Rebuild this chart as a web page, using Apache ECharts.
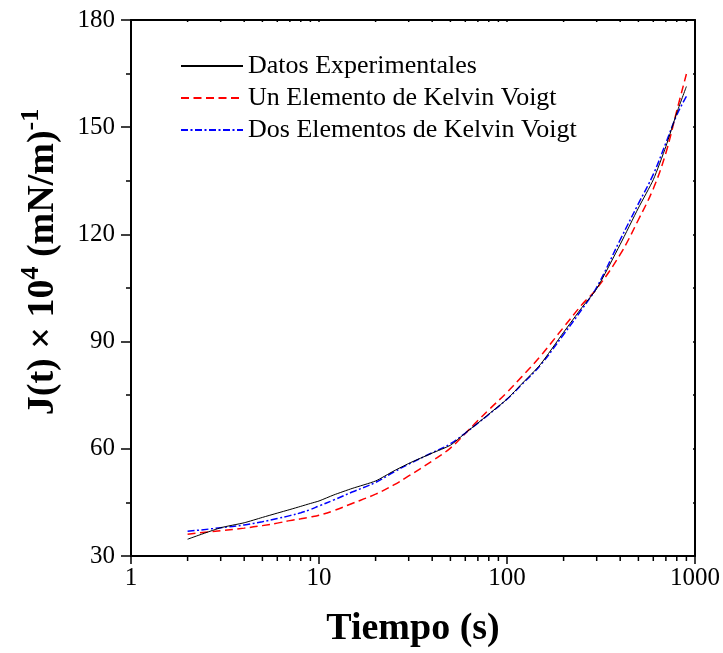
<!DOCTYPE html>
<html>
<head>
<meta charset="utf-8">
<script src="https://cdn.jsdelivr.net/npm/echarts@6/dist/echarts.min.js"></script>
<style>html,body{margin:0;padding:0;background:#fff}#c{width:723px;height:653px}</style>
</head>
<body>
<div id="c"></div>
<script>
// ---- data ----
const tiempo = [2,3,4,5,6,7,8,9,10,12,15,20,25,30,40,50,60,70,80,100,120,150,200,250,300,400,500,600,700,800,900];
const datosExperimentales = [34.7,37.9,39.3,40.8,42.0,43.0,43.9,44.7,45.4,47.1,48.9,51.0,53.8,55.9,58.8,61.0,64.4,67.2,69.7,73.9,78.2,83.5,92.6,99.5,104.8,117.2,127.4,135.3,144.6,154.0,161.4];
const unElemento = [36.1,37.1,37.8,38.5,39.2,39.9,40.4,40.9,41.4,42.7,44.7,47.3,49.9,52.4,56.6,60.2,64.3,67.9,70.9,75.8,80.2,85.8,94.0,100.3,104.8,114.4,124.1,132.8,142.8,154.6,164.9];
const dosElementos = [36.9,37.9,38.7,39.6,40.5,41.3,42.1,43.0,44.0,45.7,47.9,50.6,53.5,55.7,58.9,61.4,64.4,67.2,69.6,73.9,78.0,83.3,92.0,99.0,105.2,118.5,128.6,136.8,145.6,153.4,158.6];
const seriesNames = ['Datos Experimentales','Un Elemento de Kelvin Voigt','Dos Elementos de Kelvin Voigt'];
const xTickLabels = ['1','10','100','1000'];
const xMinorTicks = [2,3,4,5,6,7,8,9,20,30,40,50,60,70,80,90,200,300,400,500,600,700,800,900];
const yTicks = [30,60,90,120,150,180];

const serif = 'Liberation Serif';
const chart = echarts.init(document.getElementById('c'), null, {renderer:'canvas'});
const pairs = arr => tiempo.map((t,i)=>[t, arr[i]]);
const yMin = yTicks[0], yMax = yTicks[yTicks.length-1];

chart.setOption({
  animation:false,
  backgroundColor:'#fff',
  grid:{left:131,right:28,top:20,bottom:96},
  legend:{
    data:seriesNames, orient:'vertical', left:175, top:48,
    itemWidth:62, itemHeight:20, itemGap:6,
    itemStyle:{opacity:0},
    textStyle:{fontFamily:serif, fontSize:26, color:'#000', lineHeight:26}
  },
  xAxis:[{
    type:'log', logBase:10, min:1, max:1000, position:'bottom',
    name:'Tiempo (s)', nameLocation:'middle', nameGap:54,
    nameTextStyle:{fontFamily:serif, fontSize:38, fontWeight:'bold', color:'#000'},
    axisLine:{lineStyle:{color:'#000', width:2}},
    axisTick:{length:8, lineStyle:{width:1.5, color:'#000'}},
    axisLabel:{fontFamily:serif, fontSize:25, color:'#000', margin:10,
      formatter:v=>{const i=Math.round(Math.log10(v)); return xTickLabels[i]!==undefined?xTickLabels[i]:'';}},
    splitLine:{show:false}
  },{
    type:'log', logBase:10, min:1, max:1000, position:'top',
    axisLine:{lineStyle:{color:'#000', width:2}},
    axisTick:{inside:true, length:2, lineStyle:{width:1.5, color:'#000'}},
    axisLabel:{show:false}, splitLine:{show:false}
  }],
  yAxis:[{
    type:'value', min:yMin, max:yMax, interval:30, position:'left',
    axisLine:{show:true, lineStyle:{color:'#000', width:2}},
    axisTick:{show:true, length:10, lineStyle:{width:1.5, color:'#000'}},
    minorTick:{show:true, splitNumber:2, length:5, lineStyle:{width:1.5, color:'#000'}},
    axisLabel:{fontFamily:serif, fontSize:25, color:'#000', margin:16},
    splitLine:{show:false}
  },{
    type:'value', min:yMin, max:yMax, interval:30, position:'right',
    axisLine:{show:true, lineStyle:{color:'#000', width:2}},
    axisTick:{show:true, inside:true, length:2, lineStyle:{width:1.5, color:'#000'}},
    minorTick:{show:true, splitNumber:2, length:2, lineStyle:{width:1.5, color:'#000'}},
    axisLabel:{show:false}, splitLine:{show:false}
  }],
  graphic:[{
    type:'text', x:43, y:262, rotation:Math.PI/2,
    style:{
      text:'{m|J(t) × 10}{s|4}{m| (mN/m)}{s|-1}',
      align:'center', verticalAlign:'middle',
      rich:{
        m:{fontFamily:serif, fontSize:38, fontWeight:'bold', fill:'#000', lineHeight:50, verticalAlign:'middle'},
        s:{fontFamily:serif, fontSize:26, fontWeight:'bold', fill:'#000', lineHeight:50, verticalAlign:'top'}
      }
    }
  }],
  series:[
    {name:seriesNames[0], type:'line', data:pairs(datosExperimentales), symbol:'none', smooth:0.2,
     lineStyle:{color:'#000', width:1, type:'solid'}, itemStyle:{color:'#000'}, z:4},
    {name:seriesNames[1], type:'line', data:pairs(unElemento), symbol:'none', smooth:0.4,
     lineStyle:{color:'#ff0000', width:1.5, type:[8,4.5]}, itemStyle:{color:'#ff0000'}, z:3},
    {name:seriesNames[2], type:'line', data:pairs(dosElementos), symbol:'none', smooth:0.4,
     lineStyle:{color:'#0000ff', width:1.5, type:[7,2.5,2,2.5]}, itemStyle:{color:'#0000ff'}, z:3},
    {type:'custom', silent:true, clip:false, data:xMinorTicks.map(v=>[v, yMin]),
     encode:{x:0,y:1},
     renderItem:(params, api)=>{
       const v = api.value(0);
       const pb = api.coord([v, yMin]);
       const pt = api.coord([v, yMax]);
       return {type:'group', children:[
         {type:'line', shape:{x1:pb[0], y1:pb[1], x2:pb[0], y2:pb[1]+5}, style:{stroke:'#000', lineWidth:1.5}},
         {type:'line', shape:{x1:pt[0], y1:pt[1], x2:pt[0], y2:pt[1]+2}, style:{stroke:'#000', lineWidth:1.5}}
       ]};
     }}
  ]
});
</script>
</body>
</html>
